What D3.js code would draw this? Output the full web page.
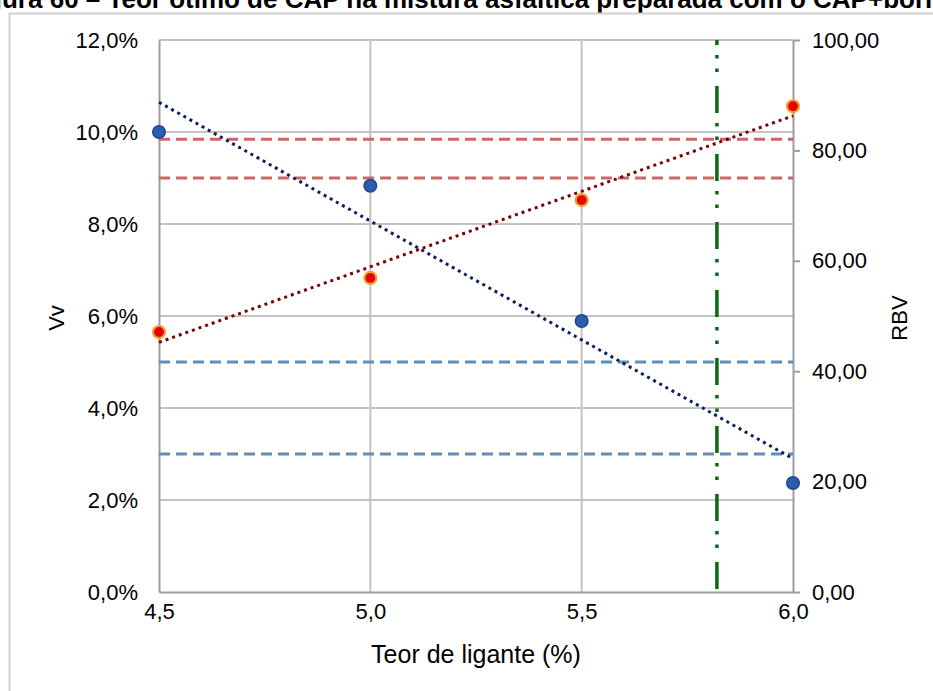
<!DOCTYPE html>
<html>
<head>
<meta charset="utf-8">
<script src="https://cdn.jsdelivr.net/npm/d3@7"></script>
<style>
  body { margin: 0; background: #fff; }
  svg { display: block; font-family: "Liberation Sans", Arial, sans-serif; }
</style>
</head>
<body>
<svg id="chart" width="933" height="691"></svg>
<script>
// data
var teor = [4.5, 5.0, 5.5, 6.0];          // Teor de ligante (%)
var vv = [10.0, 8.83, 5.89, 2.37];        // Vv (%), left axis
var rbv = [47.1, 56.9, 71.0, 88.0];       // RBV, right axis
var vvLimits = [5.0, 3.0];                // Vv limits (%)
var rbvLimits = [82, 75];                 // RBV limits
var teorOtimo = 5.82;                     // optimum binder content
var xTicks = [4.5, 5.0, 5.5, 6.0];
var vvTicks = [0, 2, 4, 6, 8, 10, 12];
var rbvTicks = [0, 20, 40, 60, 80, 100];
var titulo = "Figura 60 – Teor ótimo de CAP na mistura asfáltica preparada com o CAP+borracha";

var svg = d3.select("#chart");
var mLeft = 159, mRight = 793, mTop = 40, mBottom = 592;

var x = d3.scaleLinear().domain([4.5, 6.0]).range([mLeft, mRight]);
var yL = d3.scaleLinear().domain([0, 12]).range([mBottom, mTop]);
var yR = d3.scaleLinear().domain([0, 100]).range([mBottom, mTop]);

var fmtX = function(d) { return d3.format(".1f")(d).replace(".", ","); };
var fmtL = function(d) { return d3.format(".1f")(d).replace(".", ",") + "%"; };
var fmtR = function(d) { return d3.format(".2f")(d).replace(".", ","); };

// title (clipped at top) and frame
var t = svg.append("text")
  .attr("y", 8)
  .attr("font-weight", "bold")
  .attr("font-size", 26)
  .text(titulo);
var tmp = svg.append("text").attr("font-weight", "bold").attr("font-size", 26).text("Fig");
var figW = tmp.node().getComputedTextLength();
tmp.remove();
t.attr("x", -figW + 2);

svg.append("path")
  .attr("d", "M9.5,691V13.5H933")
  .attr("fill", "none")
  .attr("stroke", "#d0d0d0")
  .attr("stroke-width", 2);

// gridlines
svg.append("g").selectAll("line").data(vvTicks.slice(1)).enter().append("line")
  .attr("x1", mLeft).attr("x2", mRight)
  .attr("y1", function(d) { return yL(d); })
  .attr("y2", function(d) { return yL(d); })
  .attr("stroke", "#c3c3c3").attr("stroke-width", 2);
svg.append("g").selectAll("line").data(xTicks.slice(1, 3)).enter().append("line")
  .attr("x1", function(d) { return x(d); })
  .attr("x2", function(d) { return x(d); })
  .attr("y1", mTop).attr("y2", mBottom)
  .attr("stroke", "#c3c3c3").attr("stroke-width", 2);

// axes
var axisStyle = function(g) {
  g.select(".domain").attr("stroke", "#9d9d9d").attr("stroke-width", 2);
  g.selectAll(".tick line").attr("stroke", "#9d9d9d").attr("stroke-width", 2);
  g.selectAll("text").attr("font-size", 22).attr("fill", "#000")
    .attr("font-family", "Liberation Sans, Arial, sans-serif");
};
svg.append("g").attr("transform", "translate(0," + mBottom + ")")
  .call(d3.axisBottom(x).tickValues(xTicks).tickFormat(fmtX).tickSize(0).tickPadding(11).tickSizeOuter(0))
  .call(axisStyle);
svg.append("g").attr("transform", "translate(" + mLeft + ",0)")
  .call(d3.axisLeft(yL).tickValues(vvTicks).tickFormat(fmtL).tickSize(0).tickPadding(21).tickSizeOuter(0))
  .call(axisStyle);
svg.append("g").attr("transform", "translate(" + mRight + ",0)")
  .call(d3.axisRight(yR).tickValues(rbvTicks).tickFormat(fmtR).tickSize(7).tickPadding(12).tickSizeOuter(0))
  .call(axisStyle);

// axis titles
svg.append("text")
  .attr("x", 476).attr("y", 663)
  .attr("text-anchor", "middle").attr("font-size", 25)
  .text("Teor de ligante (%)");
svg.append("text")
  .attr("transform", "translate(64,318) rotate(-90)")
  .attr("text-anchor", "middle").attr("font-size", 22)
  .text("Vv");
svg.append("text")
  .attr("transform", "translate(907,318) rotate(-90)")
  .attr("text-anchor", "middle").attr("font-size", 22)
  .text("RBV");

// limit lines
svg.append("g").selectAll("line").data(rbvLimits).enter().append("line")
  .attr("x1", mLeft).attr("x2", mRight)
  .attr("y1", function(d) { return yR(d); })
  .attr("y2", function(d) { return yR(d); })
  .attr("stroke", "#d06565").attr("stroke-width", 3)
  .attr("stroke-dasharray", "11,6");
svg.append("g").selectAll("line").data(vvLimits).enter().append("line")
  .attr("x1", mLeft).attr("x2", mRight)
  .attr("y1", function(d) { return yL(d); })
  .attr("y2", function(d) { return yL(d); })
  .attr("stroke", "#5f8fb8").attr("stroke-width", 3)
  .attr("stroke-dasharray", "11,6");

// optimum content line
svg.append("line")
  .attr("x1", x(teorOtimo)).attr("x2", x(teorOtimo))
  .attr("y1", mTop).attr("y2", mBottom)
  .attr("stroke", "#0a6a12").attr("stroke-width", 3.5)
  .attr("stroke-dasharray", "27,10,3.5,10,3.5,14")
  .attr("stroke-dashoffset", 22);

// linear trend lines (least squares on the data)
var fit = function(xs, ys) {
  var mx = d3.mean(xs), my = d3.mean(ys);
  var sxy = d3.sum(xs, function(d, i) { return (d - mx) * (ys[i] - my); });
  var sxx = d3.sum(xs, function(d) { return (d - mx) * (d - mx); });
  var b = sxy / sxx;
  return function(v) { return my + b * (v - mx); };
};
var fVv = fit(teor, vv), fRbv = fit(teor, rbv);
var ends = [4.5, 6.0];
svg.append("path")
  .attr("d", d3.line().x(function(d) { return x(d); }).y(function(d) { return yL(fVv(d)); })(ends))
  .attr("fill", "none").attr("stroke", "#0b1f5a").attr("stroke-width", 3)
  .attr("stroke-dasharray", "3,4");
svg.append("path")
  .attr("d", d3.line().x(function(d) { return x(d); }).y(function(d) { return yR(fRbv(d)); })(ends))
  .attr("fill", "none").attr("stroke", "#7a0505").attr("stroke-width", 3)
  .attr("stroke-dasharray", "3,4");

// points
svg.append("g").selectAll("circle").data(teor).enter().append("circle")
  .attr("cx", function(d) { return x(d); })
  .attr("cy", function(d, i) { return yL(vv[i]); })
  .attr("r", 6.3)
  .attr("fill", "#2b5cad").attr("stroke", "#1d4a92").attr("stroke-width", 1.5);
svg.append("g").selectAll("circle").data(teor).enter().append("circle")
  .attr("cx", function(d) { return x(d); })
  .attr("cy", function(d, i) { return yR(rbv[i]); })
  .attr("r", 6)
  .attr("fill", "#e60000").attr("stroke", "#f4a030").attr("stroke-width", 2.2);
</script>
</body>
</html>
